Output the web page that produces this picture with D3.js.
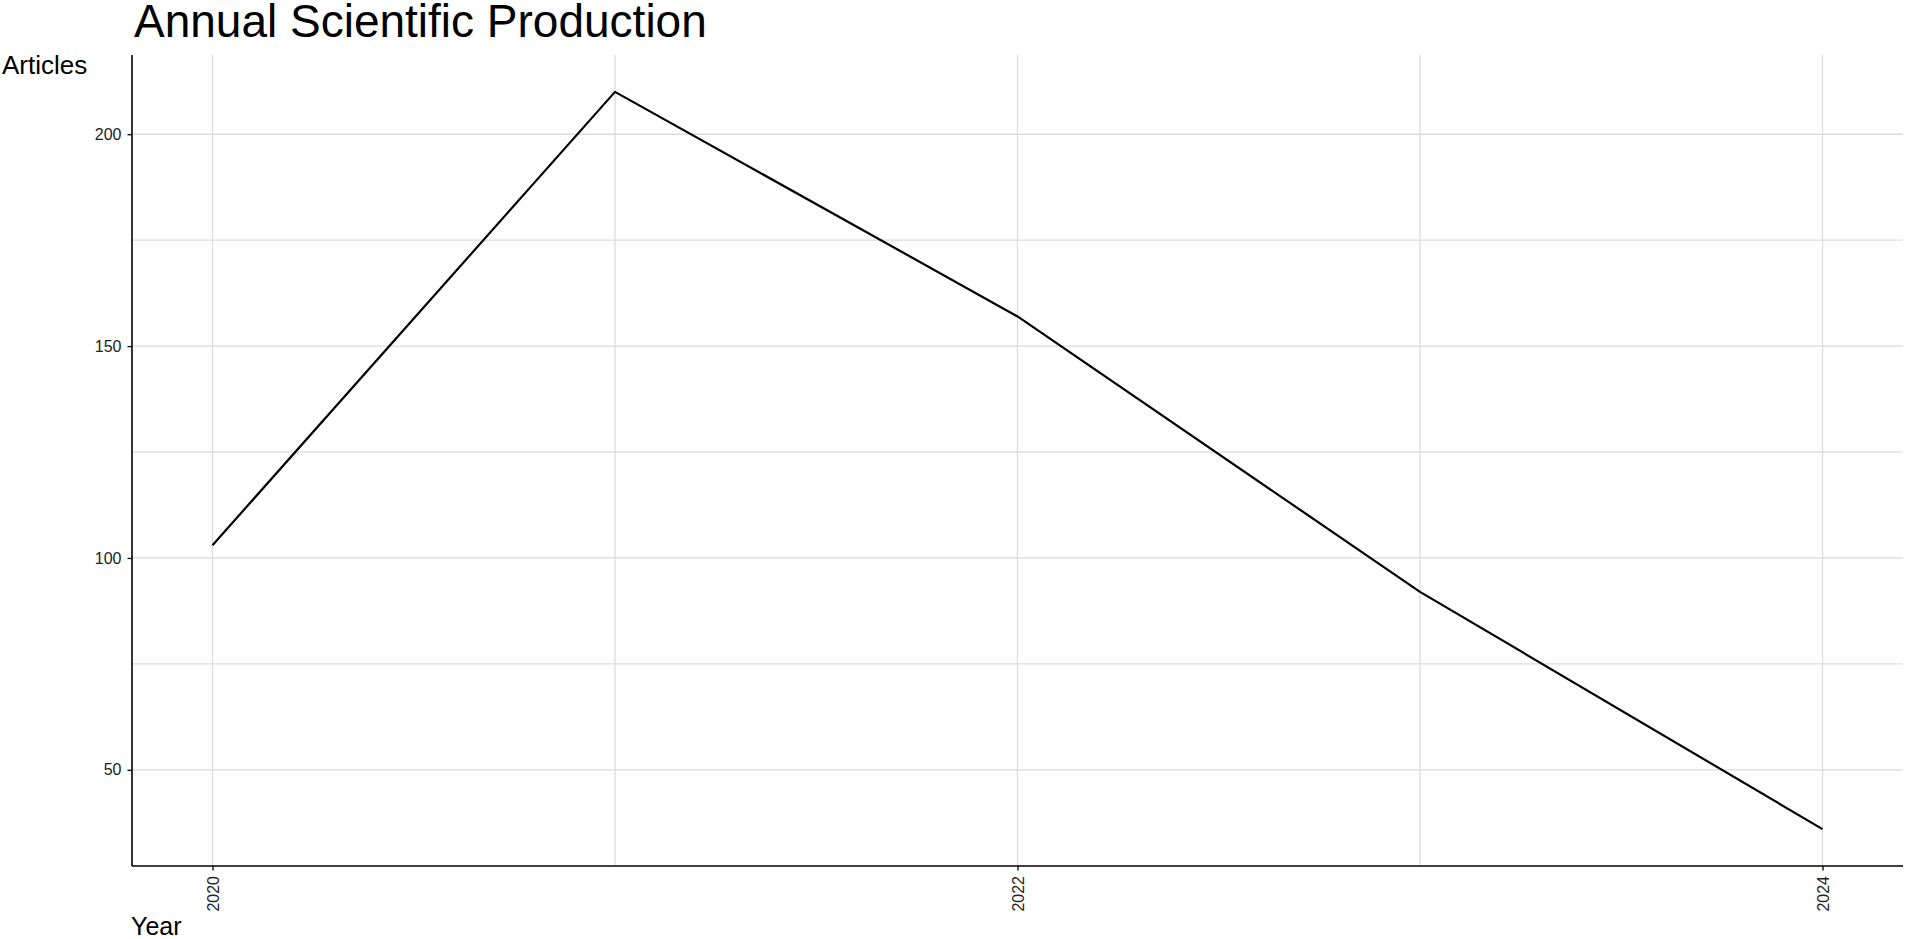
<!DOCTYPE html>
<html>
<head>
<meta charset="utf-8">
<script src="https://cdn.jsdelivr.net/npm/d3@7"></script>
<style>
html,body{margin:0;padding:0;background:#fff;}
svg{display:block;}
text{font-family:"Liberation Sans", Arial, sans-serif;}
</style>
</head>
<body>
<svg id="chart" width="1905" height="939"></svg>
<script>
const years = [2020, 2021, 2022, 2023, 2024];
const articles = [103, 210, 157, 92, 36];
const yTickValues = [50, 100, 150, 200];
const yMinorValues = [75, 125, 175];
const xTickValues = [2020, 2022, 2024];
const xMinorValues = [2021, 2023];
const titleText = "Annual Scientific Production";
const yLabel = "Articles";
const xLabel = "Year";

(function () {
const pLeft = 132, pRight = 1903, pTop = 55, pBottom = 866;
const svg = d3.select("#chart");

const yMin = d3.min(articles), yMax = d3.max(articles);
const yPad = (yMax - yMin) * 0.05;
const xPad = (d3.max(years) - d3.min(years)) * 0.05;

const x = d3.scaleLinear().domain([d3.min(years) - xPad, d3.max(years) + xPad]).range([pLeft, pRight]);
const y = d3.scaleLinear().domain([yMin - yPad, yMax + yPad]).range([pBottom, pTop]);

const grid = svg.append("g");
const gridColor = "#dcdcdc";
grid.selectAll(".hy").data(yTickValues.concat(yMinorValues)).join("line")
  .attr("x1", pLeft).attr("x2", pRight)
  .attr("y1", d => y(d)).attr("y2", d => y(d))
  .attr("stroke", gridColor).attr("stroke-width", 1.3);
grid.selectAll(".vx").data(xTickValues.concat(xMinorValues)).join("line")
  .attr("y1", pTop).attr("y2", pBottom)
  .attr("x1", d => x(d)).attr("x2", d => x(d))
  .attr("stroke", gridColor).attr("stroke-width", 1.3);

const line = d3.line().x((d, i) => x(years[i])).y(d => y(d));
svg.append("path").datum(articles)
  .attr("d", line).attr("fill", "none")
  .attr("stroke", "#000").attr("stroke-width", 2.2).attr("stroke-linejoin", "round");

// Y axis
const yAxis = svg.append("g").attr("transform", `translate(${pLeft},0)`)
  .call(d3.axisLeft(y).tickValues(yTickValues).tickSize(4.5).tickPadding(6).tickFormat(d3.format("d")));
yAxis.select(".domain").attr("stroke", "#000").attr("stroke-width", 1.6).attr("d", `M0,${pTop}V${pBottom}`);
yAxis.selectAll(".tick line").attr("stroke", "#000").attr("stroke-width", 1.3);
yAxis.selectAll(".tick text").attr("font-size", 16).attr("fill", "#222").attr("font-family", "Liberation Sans, Arial, sans-serif");

// X axis
const xAxis = svg.append("g").attr("transform", `translate(0,${pBottom})`)
  .call(d3.axisBottom(x).tickValues(xTickValues).tickSize(4.5).tickFormat(d3.format("d")));
xAxis.select(".domain").attr("stroke", "#000").attr("stroke-width", 1.6).attr("d", `M${pLeft},0H${pRight}`);
xAxis.selectAll(".tick line").attr("stroke", "#000").attr("stroke-width", 1.3);
xAxis.selectAll(".tick text")
  .attr("font-size", 16).attr("fill", "#222").attr("font-family", "Liberation Sans, Arial, sans-serif")
  .attr("transform", "rotate(-90)")
  .attr("text-anchor", "end")
  .attr("x", -10).attr("y", 0).attr("dy", "0.35em");

svg.append("text").attr("x", 134).attr("y", 37)
  .attr("font-size", 46).attr("fill", "#000").text(titleText);
svg.append("text").attr("x", 2).attr("y", 74)
  .attr("font-size", 26).attr("fill", "#000").text(yLabel);
svg.append("text").attr("x", 131).attr("y", 935)
  .attr("font-size", 25).attr("fill", "#000").text(xLabel);
})();
</script>
</body>
</html>
